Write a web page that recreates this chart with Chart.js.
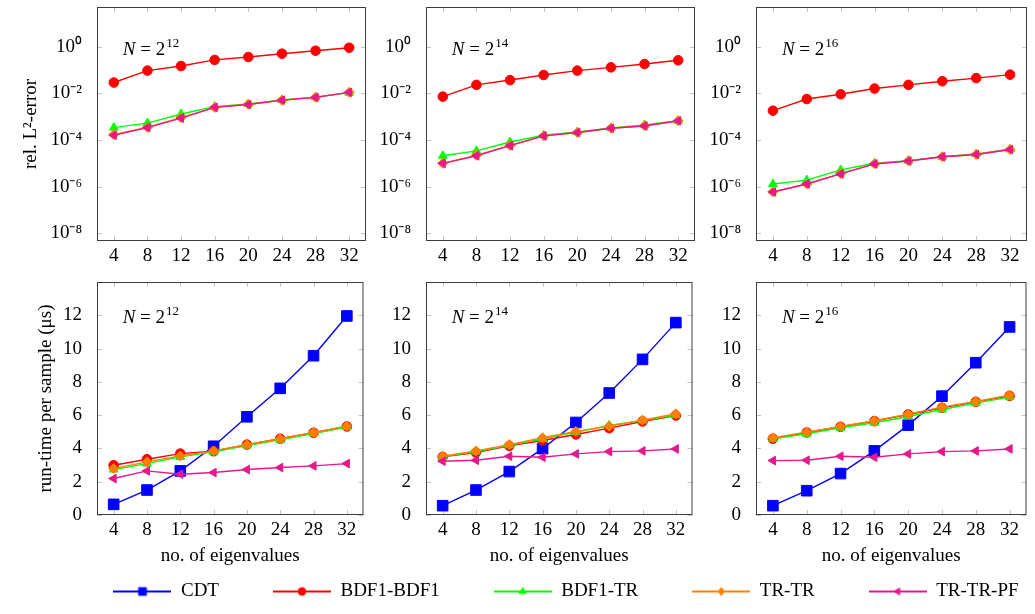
<!DOCTYPE html>
<html>
<head>
<meta charset="utf-8">
<script src="https://cdn.jsdelivr.net/npm/chart.js@4.4.0/dist/chart.umd.min.js"></script>
<style>
  html, body { margin: 0; padding: 0; background: #fff; }
  #page { position: relative; width: 1035px; height: 614px; overflow: hidden; }
  #page canvas { position: absolute; }
</style>
</head>
<body>
<div id="page"></div>
<script>
// x values shared by every panel
const eigenvalues = [4, 8, 12, 16, 20, 24, 28, 32];

const errorTicks = [1e-8, 1e-6, 1e-4, 1e-2, 1];
const errorTickLabels = ['10⁻⁸', '10⁻⁶', '10⁻⁴', '10⁻²', '10⁰'];
const timeTicks = [0, 2, 4, 6, 8, 10, 12];

// relative L2 error (no CDT curve in the error plots)
const err12_BDF1BDF1 = [0.029, 0.094, 0.148, 0.27, 0.36, 0.50, 0.67, 0.90];
const err12_BDF1TR   = [3.4e-4, 5.3e-4, 1.3e-3, 2.7e-3, 3.5e-3, 5.2e-3, 6.9e-3, 1.07e-2];
const err12_TRTR     = [1.7e-4, 3.5e-4, 9.0e-4, 2.5e-3, 3.4e-3, 5.0e-3, 6.8e-3, 1.1e-2];
const err12_TRTRPF   = [1.6e-4, 3.4e-4, 8.7e-4, 2.5e-3, 3.3e-3, 5.1e-3, 6.7e-3, 1.1e-2];

const err14_BDF1BDF1 = [0.0072, 0.023, 0.037, 0.061, 0.094, 0.13, 0.18, 0.26];
const err14_BDF1TR   = [2.1e-5, 3.4e-5, 8.2e-5, 1.6e-4, 2.2e-4, 3.3e-4, 4.4e-4, 6.7e-4];
const err14_TRTR     = [1.0e-5, 2.2e-5, 5.8e-5, 1.5e-4, 2.1e-4, 3.2e-4, 4.1e-4, 6.6e-4];
const err14_TRTRPF   = [1.0e-5, 2.1e-5, 5.7e-5, 1.5e-4, 2.1e-4, 3.2e-4, 4.0e-4, 6.7e-4];

const err16_BDF1BDF1 = [1.8e-3, 5.7e-3, 9.1e-3, 0.016, 0.023, 0.033, 0.045, 0.063];
const err16_BDF1TR   = [1.3e-6, 1.9e-6, 5.2e-6, 1.0e-5, 1.3e-5, 1.9e-5, 2.5e-5, 4.0e-5];
const err16_TRTR     = [6.0e-7, 1.3e-6, 3.6e-6, 9.5e-6, 1.27e-5, 1.9e-5, 2.4e-5, 3.9e-5];
const err16_TRTRPF   = [5.9e-7, 1.3e-6, 3.5e-6, 9.4e-6, 1.26e-5, 1.9e-5, 2.4e-5, 3.9e-5];

// run-time per sample in microseconds
const time12_CDT      = [0.64, 1.50, 2.65, 4.13, 5.90, 7.61, 9.57, 11.96];
const time12_BDF1BDF1 = [2.99, 3.35, 3.69, 3.83, 4.23, 4.58, 4.94, 5.32];
const time12_BDF1TR   = [2.73, 3.09, 3.49, 3.79, 4.17, 4.52, 4.90, 5.28];
const time12_TRTR     = [2.79, 3.19, 3.55, 3.85, 4.23, 4.58, 4.96, 5.34];
const time12_TRTRPF   = [2.19, 2.65, 2.45, 2.55, 2.73, 2.85, 2.95, 3.09];

const time14_CDT      = [0.56, 1.50, 2.61, 3.99, 5.56, 7.33, 9.35, 11.56];
const time14_BDF1BDF1 = [3.49, 3.75, 4.15, 4.48, 4.84, 5.22, 5.62, 5.98];
const time14_BDF1TR   = [3.49, 3.81, 4.19, 4.58, 4.98, 5.38, 5.68, 6.00];
const time14_TRTR     = [3.53, 3.85, 4.23, 4.64, 5.02, 5.34, 5.70, 6.08];
const time14_TRTRPF   = [3.23, 3.29, 3.53, 3.47, 3.67, 3.81, 3.85, 3.97];

const time16_CDT      = [0.56, 1.46, 2.49, 3.85, 5.40, 7.14, 9.15, 11.30];
const time16_BDF1BDF1 = [4.58, 4.96, 5.30, 5.64, 6.04, 6.44, 6.80, 7.16];
const time16_BDF1TR   = [4.58, 4.88, 5.24, 5.54, 5.92, 6.34, 6.72, 7.08];
const time16_TRTR     = [4.64, 4.98, 5.32, 5.66, 6.06, 6.48, 6.82, 7.20];
const time16_TRTRPF   = [3.27, 3.29, 3.53, 3.47, 3.67, 3.81, 3.85, 3.97];

const seriesNames = ['CDT', 'BDF1-BDF1', 'BDF1-TR', 'TR-TR', 'TR-TR-PF'];
const gridExponents = ['12', '14', '16'];

// styles
const seriesColors = ['#0000ff', '#ff0000', '#00ff00', '#ff8000', '#e6198c'];
const seriesMarkers = ['rect', 'circle', 'triangle', 'rectRot', 'triangle'];
const markerRotation = [0, 0, 0, 0, -90];
const markerRadius = [7.5, 4.8, 5, 5, 5];
const legendRadius = [5.5, 3.8, 4, 4, 4];

const FONT = '"Liberation Serif", "Times New Roman", serif';
Chart.defaults.font.family = FONT;
Chart.defaults.font.size = 19;
Chart.defaults.color = '#000';

const page = document.getElementById('page');
function addCanvas(left, top, width, height) {
  const c = document.createElement('canvas');
  c.width = width;
  c.height = height;
  c.style.left = left + 'px';
  c.style.top = top + 'px';
  page.appendChild(c);
  return c;
}

// gray inner tick marks + dark frame, like pgfplots
const frame = {
  id: 'frame',
  beforeDatasetsDraw(chart) {
    const { ctx, chartArea: a, scales } = chart;
    ctx.save();
    ctx.strokeStyle = '#c4c4c4';
    ctx.lineWidth = 1;
    ctx.beginPath();
    scales.x.ticks.forEach(t => {
      const px = Math.round(scales.x.getPixelForValue(t.value)) + 0.5;
      ctx.moveTo(px, a.bottom); ctx.lineTo(px, a.bottom - 5);
      ctx.moveTo(px, a.top); ctx.lineTo(px, a.top + 5);
    });
    scales.y.ticks.forEach(t => {
      const py = Math.round(scales.y.getPixelForValue(t.value)) + 0.5;
      ctx.moveTo(a.left, py); ctx.lineTo(a.left + 5, py);
      ctx.moveTo(a.right, py); ctx.lineTo(a.right - 5, py);
    });
    ctx.stroke();
    ctx.strokeStyle = '#3c3c3c';
    ctx.strokeRect(a.left + 0.5, a.top + 0.5, a.width - 1, a.height - 1);
    ctx.restore();
  }
};

// "N = 2^k" note, anchored in data coordinates
const sizeLabel = {
  id: 'sizeLabel',
  afterDatasetsDraw(chart, args, opts) {
    const { ctx, scales } = chart;
    const x = scales.x.getPixelForValue(opts.at[0]) + 9;
    const y = scales.y.getPixelForValue(opts.at[1]) + 8;
    ctx.save();
    ctx.fillStyle = '#000';
    ctx.textBaseline = 'alphabetic';
    ctx.font = 'italic 19px ' + FONT;
    ctx.fillText('N', x, y);
    let cx = x + ctx.measureText('N').width;
    ctx.font = '19px ' + FONT;
    ctx.fillText(' = 2', cx, y);
    cx += ctx.measureText(' = 2').width;
    ctx.font = '13px ' + FONT;
    ctx.fillText(opts.exp, cx + 1, y - 8);
    ctx.restore();
  }
};

const columns = [
  { left: 0,   plotLeft: 97,  plotRight: 367,  right: 372 },
  { left: 372, plotLeft: 426, plotRight: 696,  right: 701 },
  { left: 701, plotLeft: 756, plotRight: 1027, right: 1035 }
];
const rows = [
  { top: 0,   plotTop: 7,   plotBottom: 241, bottom: 272 },
  { top: 272, plotTop: 282, plotBottom: 515, bottom: 575 }
];

function makeDataset(i, values) {
  return {
    label: seriesNames[i],
    data: eigenvalues.map((e, k) => ({ x: e, y: values[k] })),
    borderColor: seriesColors[i],
    backgroundColor: seriesColors[i],
    borderWidth: 1.4,
    pointStyle: seriesMarkers[i],
    pointRotation: markerRotation[i],
    pointRadius: markerRadius[i],
    pointBorderWidth: 1,
    order: seriesNames.length - i,
    tension: 0
  };
}

function makePanel(col, row, series, isError, exp) {
  const c = columns[col], r = rows[row];
  const canvas = addCanvas(c.left, r.top, c.right - c.left, r.bottom - r.top);
  const yScale = isError ? {
    type: 'logarithmic',
    min: Math.pow(10, -8.33),
    max: Math.pow(10, 1.7),
    afterBuildTicks: s => { s.ticks = errorTicks.map(v => ({ value: v })); },
    ticks: { callback: v => errorTickLabels[errorTicks.indexOf(v)] }
  } : {
    type: 'linear',
    min: 0,
    max: 14,
    afterBuildTicks: s => { s.ticks = timeTicks.map(v => ({ value: v })); }
  };
  Object.assign(yScale, {
    grid: { display: false },
    border: { display: false },
    afterFit: s => {
      s.width = c.plotLeft - c.left;
      s.paddingTop = 0; s.paddingBottom = 0;
    },
    title: {
      display: col === 0,
      text: isError ? 'rel. L²-error' : 'run-time per sample (μs)',
      padding: { top: isError ? 20 : 35, bottom: 0 }
    }
  });
  yScale.ticks = Object.assign({ padding: 7, autoSkip: false }, yScale.ticks || {});

  return new Chart(canvas, {
    type: 'line',
    data: { datasets: series.map(([i, vals]) => makeDataset(i, vals)) },
    options: {
      responsive: false,
      animation: false,
      layout: { padding: { top: r.plotTop - r.top, right: c.right - c.plotRight, left: 0, bottom: 0 } },
      scales: {
        x: {
          type: 'linear',
          min: 2,
          max: 34,
          afterBuildTicks: s => { s.ticks = eigenvalues.map(v => ({ value: v })); },
          afterFit: s => {
            s.height = r.bottom - r.plotBottom;
            s.paddingLeft = 0; s.paddingRight = 0;
          },
          grid: { display: false },
          border: { display: false },
          ticks: { padding: -4, maxRotation: 0, autoSkip: false },
          title: { display: !isError, text: 'no. of eigenvalues', padding: { top: 0, bottom: 8 } }
        },
        y: yScale
      },
      plugins: {
        legend: { display: false },
        tooltip: { enabled: false },
        sizeLabel: { at: [4, isError ? 1 : 12], exp: exp }
      }
    },
    plugins: [frame, sizeLabel]
  });
}

makePanel(0, 0, [[1, err12_BDF1BDF1], [2, err12_BDF1TR], [3, err12_TRTR], [4, err12_TRTRPF]], true, gridExponents[0]);
makePanel(1, 0, [[1, err14_BDF1BDF1], [2, err14_BDF1TR], [3, err14_TRTR], [4, err14_TRTRPF]], true, gridExponents[1]);
makePanel(2, 0, [[1, err16_BDF1BDF1], [2, err16_BDF1TR], [3, err16_TRTR], [4, err16_TRTRPF]], true, gridExponents[2]);

makePanel(0, 1, [[0, time12_CDT], [1, time12_BDF1BDF1], [2, time12_BDF1TR], [3, time12_TRTR], [4, time12_TRTRPF]], false, gridExponents[0]);
makePanel(1, 1, [[0, time14_CDT], [1, time14_BDF1BDF1], [2, time14_BDF1TR], [3, time14_TRTR], [4, time14_TRTRPF]], false, gridExponents[1]);
makePanel(2, 1, [[0, time16_CDT], [1, time16_BDF1BDF1], [2, time16_BDF1TR], [3, time16_TRTR], [4, time16_TRTRPF]], false, gridExponents[2]);

// legend symbol: line with the marker in the middle
function legendSymbol(i) {
  const c = document.createElement('canvas');
  c.width = 58; c.height = 14;
  const g = c.getContext('2d');
  const x = 29, y = 7, r = legendRadius[i];
  g.strokeStyle = seriesColors[i];
  g.fillStyle = seriesColors[i];
  g.lineWidth = 1.8;
  g.beginPath(); g.moveTo(0, y); g.lineTo(58, y); g.stroke();
  g.lineWidth = 1;
  g.beginPath();
  const m = seriesMarkers[i];
  if (m === 'rect') {
    const h = r * Math.SQRT1_2;
    g.rect(x - h, y - h, 2 * h, 2 * h);
  } else if (m === 'circle') {
    g.arc(x, y, r, 0, 2 * Math.PI);
  } else if (m === 'rectRot') {
    g.moveTo(x - r * 0.8, y); g.lineTo(x, y - r); g.lineTo(x + r * 0.8, y); g.lineTo(x, y + r); g.closePath();
  } else {
    const rot = markerRotation[i] * Math.PI / 180;
    for (let k = 0; k < 3; k++) {
      const a = rot + k * 2 * Math.PI / 3;
      const px = x + Math.sin(a) * r, py = y - Math.cos(a) * r;
      if (k === 0) g.moveTo(px, py); else g.lineTo(px, py);
    }
    g.closePath();
  }
  g.fill();
  g.stroke();
  return c;
}
const legendSymbols = seriesNames.map((n, i) => legendSymbol(i));

// legend items sit "padding" px below the legend top, so the canvas starts higher;
// it is wider than the page so all five entries stay on one line
const legendCanvas = addCanvas(16, 528, 1100, 220);
new Chart(legendCanvas, {
  type: 'line',
  data: { datasets: seriesNames.map((n, i) => ({ label: n, data: [], borderColor: seriesColors[i] })) },
  options: {
    responsive: false,
    animation: false,
    scales: { x: { display: false }, y: { display: false } },
    plugins: {
      tooltip: { enabled: false },
      legend: {
        display: true,
        position: 'top',
        maxHeight: 200,
        labels: {
          usePointStyle: true,
          pointStyleWidth: 58,
          padding: 54,
          color: '#000',
          font: { size: 19 },
          generateLabels: () => seriesNames.map((n, i) => ({
            text: n, pointStyle: legendSymbols[i], fillStyle: seriesColors[i],
            strokeStyle: seriesColors[i], lineWidth: 0, hidden: false, datasetIndex: i, fontColor: '#000'
          }))
        }
      }
    }
  }
});
</script>
</body>
</html>
